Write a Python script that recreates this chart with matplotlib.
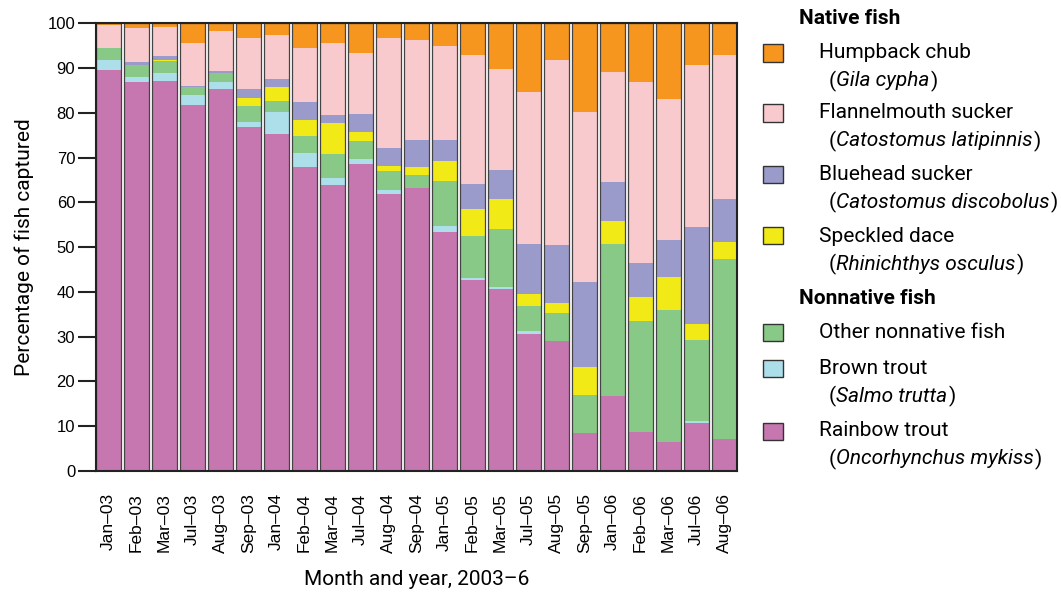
import numpy as np
import matplotlib.pyplot as plt
from matplotlib.patches import Rectangle

months = ['Jan–03', 'Feb–03', 'Mar–03', 'Jul–03', 'Aug–03', 'Sep–03',
          'Jan–04', 'Feb–04', 'Mar–04', 'Jul–04', 'Aug–04', 'Sep–04',
          'Jan–05', 'Feb–05', 'Mar–05', 'Jul–05', 'Aug–05', 'Sep–05',
          'Jan–06', 'Feb–06', 'Mar–06', 'Jul–06', 'Aug–06']

# percentages, bottom to top
rainbow = [89.6, 86.9, 87.1, 81.8, 85.3, 76.8, 75.3, 67.9, 63.9, 68.6, 61.9, 63.2,
           53.4, 42.7, 40.7, 30.6, 29.0, 8.5, 16.8, 8.7, 6.5, 10.7, 7.1]
brown = [2.2, 1.1, 1.8, 2.2, 1.6, 1.2, 4.9, 3.1, 1.6, 1.1, 0.9, 0.0,
         1.3, 0.4, 0.4, 0.7, 0.0, 0.0, 0.0, 0.0, 0.0, 0.5, 0.0]
other = [2.7, 2.7, 2.7, 1.7, 1.9, 3.5, 2.5, 3.8, 5.3, 4.0, 4.2, 2.9,
         10.1, 9.4, 13.0, 5.6, 6.3, 8.5, 33.9, 24.8, 29.5, 18.1, 40.3]
speckled = [0.0, 0.0, 0.2, 0.0, 0.0, 1.8, 3.1, 3.6, 6.9, 2.0, 1.1, 1.8,
            4.4, 6.0, 6.7, 2.6, 2.2, 6.2, 5.1, 5.4, 7.3, 3.5, 3.8]
bluehead = [0.0, 0.7, 0.9, 0.3, 0.6, 2.0, 1.8, 4.0, 1.8, 4.0, 4.1, 6.0,
            4.7, 5.6, 6.4, 11.2, 13.0, 19.0, 8.8, 7.6, 8.3, 21.7, 9.6]
flannel = [5.1, 7.6, 6.5, 9.6, 8.9, 11.4, 9.8, 12.1, 16.1, 13.7, 24.5, 22.4,
           21.0, 28.8, 22.6, 34.0, 41.3, 38.0, 24.5, 40.4, 31.5, 36.2, 32.1]
humpback = [0.4, 1.0, 0.8, 4.4, 1.7, 3.3, 2.6, 5.5, 4.4, 6.6, 3.3, 3.7,
            5.1, 7.1, 10.2, 15.3, 8.2, 19.8, 10.9, 13.1, 16.9, 9.3, 7.1]

series = [rainbow, brown, other, speckled, bluehead, flannel, humpback]
colors = ['#c677b0', '#acdfea', '#89c987', '#f2ea16', '#9b9bcb', '#f9cacd', '#f7961e']

plt.rcParams['font.family'] = ['Liberation Sans', 'DejaVu Sans']
cond = ['Roboto', 'DejaVu Sans']

fig = plt.figure(figsize=(10.61, 5.94), dpi=100)
ax = fig.add_axes([0.0905, 0.207, 0.604, 0.754])

x = np.arange(len(months))
w = 0.88
bottom = np.zeros(len(months))
for vals, c in zip(series, colors):
    ax.bar(x, vals, w, bottom=bottom, color=c, linewidth=0)
    bottom += np.array(vals)
# dark outline around each stacked bar
ax.bar(x, bottom, w, fill=False, edgecolor='#444444', linewidth=0.9)

ax.set_xlim(-0.44, 22.44)
ax.set_ylim(0, 100)
ax.set_yticks(range(0, 101, 10))
ax.tick_params(axis='y', length=13, width=1.5, pad=2, labelsize=12, color='#222222')
ax.set_xticks(x)
ax.set_xticklabels(months, rotation=90, fontsize=12.5)
ax.tick_params(axis='x', length=0, pad=16)
for s in ax.spines.values():
    s.set_linewidth(1.5)
    s.set_color('#222222')

ax.set_ylabel('Percentage of fish captured', fontsize=15, family=cond, labelpad=10)
ax.set_xlabel('Month and year, 2003–6', fontsize=15, family=cond, labelpad=12)

# custom legend
W, H = 1061, 594
def fy(py):
    return 1 - py / H

entries = [
    ('head', 'Native fish', None, 18),
    ('item', 'Humpback chub', 'Gila cypha', 53),
    ('item', 'Flannelmouth sucker', 'Catostomus latipinnis', 113),
    ('item', 'Bluehead sucker', 'Catostomus discobolus', 174),
    ('item', 'Speckled dace', 'Rhinichthys osculus', 236),
    ('head', 'Nonnative fish', None, 298),
    ('item', 'Other nonnative fish', None, 332),
    ('item', 'Brown trout', 'Salmo trutta', 368),
    ('item', 'Rainbow trout', 'Oncorhynchus mykiss', 431),
]
leg_colors = [None, colors[6], colors[5], colors[4], colors[3], None,
              colors[2], colors[1], colors[0]]

renderer = fig.canvas.get_renderer()
for (kind, name, sci, py), c in zip(entries, leg_colors):
    if kind == 'head':
        fig.text(799 / W, fy(py), name, fontsize=15, fontweight='bold',
                 family=cond, va='center', ha='left')
        continue
    fig.patches.append(Rectangle((763 / W, fy(py + 8.5)), 20 / W, 17 / H,
                                 transform=fig.transFigure, facecolor=c,
                                 edgecolor='#333333', linewidth=1.0))
    fig.text(819 / W, fy(py), name, fontsize=15, family=cond,
             va='center', ha='left')
    if sci:
        xp = 829
        for part, st in [('(', 'normal'), (sci, 'italic'), (')', 'normal')]:
            t = fig.text(xp / W, fy(py + 28), part, fontsize=15, family=cond,
                         style=st, va='center', ha='left')
            xp += t.get_window_extent(renderer).width + (1 if st == 'italic' else 0)

fig.savefig('out.png', dpi=100)
